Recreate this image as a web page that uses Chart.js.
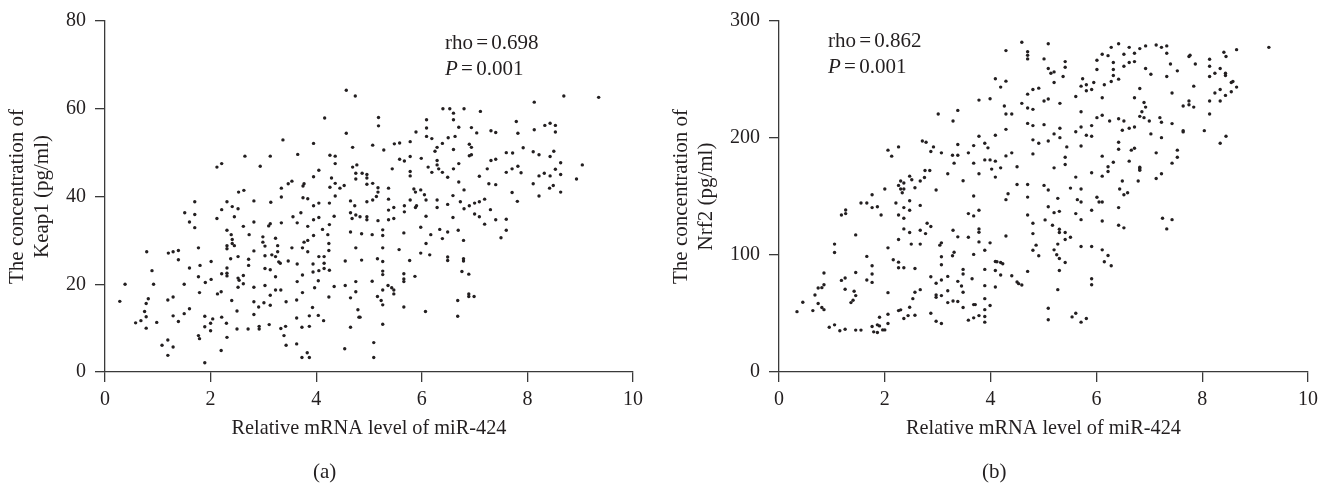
<!DOCTYPE html>
<html>
<head>
<meta charset="utf-8">
<title>miR-424 scatter</title>
<script src="https://cdn.jsdelivr.net/npm/chart.js@4"></script>
<style>
body { margin: 0; background: #fff; }
#page { position: relative; width: 1332px; height: 484px; overflow: hidden; }
canvas { position: absolute; top: 0; }
.note { position: absolute; font: 21px "Liberation Serif", serif; color: #231f20; white-space: nowrap; word-spacing: -2px; }
</style>
</head>
<body>
<div id="page">
    <canvas id="chartA" style="left:0"></canvas>
    <canvas id="chartB" style="left:666px"></canvas>
    <div class="note" style="left:445px;top:30px">rho = 0.698</div>
    <div class="note" style="left:445px;top:56px"><i>P</i> = 0.001</div>
    <div class="note" style="left:828px;top:28px">rho = 0.862</div>
    <div class="note" style="left:828px;top:54px"><i>P</i> = 0.001</div>
    <div class="note" style="left:313px;top:459px">(a)</div>
    <div class="note" style="left:982px;top:459px">(b)</div>
</div>
<script>
const mirA = [
    4.57,4.74,4.16,4.57,4.69,3.37,3.95,3.65,4.26,4.36,4.36,2.65,3.13,2.21,2.12,2.94,4.69,4.77,4.05,4.75,4.87,3.95,4.29,4.75,3.54,3.47,3.77,3.75,4.36,4.26,4.45,4.53,3.34,2.63,2.53,
    8.13,8.69,9.35,6.40,6.53,6.60,6.80,7.11,5.18,5.18,
    6.09,6.60,6.09,6.70,6.94,5.89,7.04,7.31,7.40,7.79,
    7.82,8.13,8.33,8.43,8.53,8.53,6.09,6.19,6.50,6.63,
    5.48,5.58,5.78,5.07,5.28,6.39,6.29,6.25,6.60,6.90,
    6.94,6.90,6.94,7.92,7.60,7.72,8.11,8.22,8.50,8.43,
    5.58,5.67,5.78,5.99,6.29,7.31,7.40,8.63,9.04,6.29,
    6.70,5.44,6.12,6.32,6.60,7.24,7.71,7.82,7.60,7.88,
    8.53,8.32,8.22,8.43,8.63,8.93,4.96,4.96,4.96,5.07,
    5.17,5.17,5.37,5.78,5.78,6.19,6.39,6.49,7.09,6.70,
    7.27,7.40,8.11,8.42,8.49,8.63,8.22,7.71,5.85,5.88,
    5.98,6.05,6.80,6.59,5.14,
    4.96,5.07,5.37,5.78,6.08,6.29,6.73,6.49,7.19,7.09,
    7.00,6.90,6.80,7.81,5.37,5.47,5.67,5.67,5.88,5.90,
    6.29,7.30,7.00,7.09,6.08,6.59,7.40,7.60,4.83,4.96,
    4.96,5.17,5.37,5.47,7.19,5.98,5.26,6.34,6.49,6.69,
    7.60,5.66,6.17,4.86,5.06,5.26,7.50,6.39,6.79,6.08,
    5.26,5.57,5.98,6.15,6.49,6.49,6.79,6.79,5.16,5.26,
    5.77,4.86,5.26,5.26,5.66,5.66,5.66,5.87,6.76,6.89,
    5.06,5.36,5.43,5.47,5.47,5.26,5.16,5.23,5.26,6.68,
    6.89,6.89,6.99,5.66,6.07,6.68,4.83,5.26,5.09,5.09,
    3.34,3.75,3.84,4.36,4.65,4.73,2.82,3.14,2.31,1.70,
    4.05,4.25,3.95,2.41,2.52,2.21,1.51,1.70,3.71,4.65,
    4.75,4.68,3.56,4.34,2.45,2.12,4.05,3.95,1.60,2.82,
    3.34,3.64,3.13,3.10,2.62,3.84,4.25,1.70,4.12,2.31,
    4.65,4.22,2.39,2.73,3.95,2.99,3.23,2.41,3.84,3.77,
    2.99,4.24,2.41,2.45,2.31,2.31,3.03,3.27,3.54,3.74,
    4.75,1.77,4.24,2.82,3.27,3.84,0.79,1.29,1.20,1.39,
    3.03,3.16,3.23,2.52,4.05,4.15,2.38,2.72,1.39,3.47,
    2.01,3.29,3.32,3.64,3.94,4.15,4.55,1.80,2.72,1.60,
    2.31,3.03,3.13,4.15,4.05,4.25,3.94,0.89,2.21,2.31,
    2.31,3.74,2.62,3.23,1.77,2.52,2.54,2.01,3.64,4.04,
    1.90,4.75,0.38,0.92,1.50,2.62,2.52,2.82,3.03,3.97,
    4.34,4.55,3.23,3.33,2.20,2.13,1.79,3.74,4.75,3.13,
    4.24,1.29,0.82,1.19,4.65,2.40,3.63,0.28,0.78,2.82,
    3.01,3.43,3.13,2.91,3.93,1.60,4.79,2.50,0.75,1.50,
    2.82,1.29,0.78,1.89,3.87,4.04,2.21,4.81,3.63,2.04,
    0.68,0.58,0.98,1.39,4.14,2.00,2.30,3.11,1.89,2.92,
    2.92,3.42,3.33,3.73,3.87,4.65,0.78,2.50,2.71,2.00,
    1.77,1.79,2.31,3.39,1.19,1.08,1.29,3.43,3.63,4.54,
    2.20,3.83,1.19,3.73,3.87,1.89
];

const keap1 = [
    64.2,62.9,57.9,54.4,51.2,52.9,52.1,49.6,49.4,49.2,47.5,49.2,49.2,47.5,46.7,46.9,46.7,47.2,46.0,45.3,45.3,44.5,44.2,44.0,43.5,42.9,42.9,42.4,43.0,42.1,41.9,42.5,41.9,41.4,41.0,
    61.5,62.9,62.6,60.0,60.0,59.0,60.0,59.4,58.0,56.1,
    57.5,57.5,55.6,55.8,55.7,54.7,54.5,55.0,54.6,57.1,
    54.4,55.2,56.2,56.7,56.2,54.7,53.7,53.2,53.4,53.7,
    52.0,52.2,52.5,51.7,50.6,52.1,51.2,50.3,50.7,51.9,
    51.2,49.3,49.5,51.1,50.0,49.9,50.2,49.5,50.3,49.1,
    48.5,48.1,49.1,48.7,48.2,48.2,48.5,47.7,47.2,47.2,
    47.5,46.3,46.7,46.3,46.3,46.3,46.3,46.9,45.5,45.4,
    46.2,45.3,44.7,44.7,45.0,44.0,45.0,44.2,42.8,43.0,
    42.0,41.0,41.9,45.7,44.7,45.5,45.5,44.4,44.6,43.3,
    42.9,42.7,42.9,41.9,42.5,41.0,40.1,40.9,41.7,41.0,
    41.5,40.4,41.5,40.2,40.0,
    38.8,39.2,39.4,39.2,39.2,39.2,38.8,38.2,39.4,38.8,
    38.5,37.9,37.2,38.9,36.9,37.5,37.9,36.5,37.5,37.9,
    37.5,37.0,36.0,35.4,35.5,35.2,34.7,34.8,35.4,35.4,
    34.7,34.5,34.7,35.0,33.7,33.0,32.4,32.5,31.9,32.3,
    32.3,31.7,31.3,31.5,31.3,31.1,30.6,30.4,30.0,29.3,
    28.3,27.9,27.1,26.7,26.2,25.4,25.8,25.3,25.8,25.2,
    25.4,25.5,23.0,22.2,22.4,21.2,20.6,21.8,22.9,22.3,
    20.7,19.7,19.2,18.7,17.8,18.7,17.2,16.3,15.3,16.3,
    17.8,17.2,17.2,14.8,13.8,12.7,12.5,10.9,6.7,3.3,
    39.9,39.7,39.5,40.1,39.0,37.9,39.0,38.7,38.8,38.8,
    38.5,38.5,37.9,37.7,37.2,37.0,36.3,35.9,36.3,36.3,
    35.8,35.0,35.4,35.5,35.4,35.0,35.2,34.7,34.2,34.2,
    34.0,34.0,33.8,33.3,33.2,33.2,33.6,32.9,32.5,32.3,
    31.9,31.3,31.3,31.3,31.1,30.8,30.5,30.2,30.0,29.6,
    29.6,29.3,29.3,28.8,28.8,28.1,28.7,28.8,28.3,28.3,
    28.3,28.3,27.7,27.6,27.4,27.4,27.4,27.4,27.1,27.7,
    26.5,26.7,26.3,26.3,26.3,26.3,25.8,25.7,25.6,25.3,
    25.2,25.1,24.8,24.6,24.6,24.8,25.3,24.3,24.3,23.7,
    23.7,23.6,23.3,23.6,23.1,23.2,22.8,23.1,22.4,22.5,
    21.9,22.1,22.0,21.7,21.7,21.4,20.9,21.1,20.6,20.8,
    20.4,20.6,20.0,20.0,20.0,20.1,19.3,19.3,19.7,19.2,
    19.5,19.7,18.7,18.7,18.3,17.8,18.1,18.1,18.3,17.5,
    17.1,17.1,16.7,16.4,16.9,16.3,16.4,16.1,15.6,16.0,
    15.8,16.0,15.2,14.8,14.7,14.4,14.2,13.9,13.8,13.3,
    13.1,12.8,12.6,12.7,12.8,12.9,12.5,12.5,12.3,12.1,
    11.7,11.2,11.3,11.5,11.7,11.1,11.1,10.8,10.3,10.4,
    9.8,10.4,9.9,10.2,10.4,10.2,10.0,9.8,9.8,9.4,
    8.3,7.6,7.9,8.3,7.3,6.1,5.7,6.1,6.4,5.3,
    4.9,4.4,3.8,3.3,3.3,2.1
];

const mirB = [
    4.59,4.29,4.70,4.70,4.70,4.09,4.29,4.19,4.80,4.70,
    3.78,3.99,4.59,4.26,4.70,4.80,3.38,3.01,4.29,4.40,
    3.29,4.70,4.80,4.29,4.09,3.78,4.80,2.71,2.78,3.38,
    3.89,3.95,3.68,2.26,2.92,2.06,2.13,2.87,3.07,3.28,
    3.38,3.58,4.29,4.40,4.80,3.31,3.68,3.89,3.99,4.09,
    4.02,4.19,4.50,2.76,2.85,2.47,2.75,3.19,3.78,4.09,
    2.51,2.67,2.30,2.36,3.48,2.26,2.36,2.30,2.33,2.57,
    2.00,2.97,1.76,4.50,4.70,4.33,3.68,4.70,
    4.29,2.47,1.55,1.66,2.21,2.67,1.76,1.86,2.36,2.47,
    1.26,1.26,1.18,1.93,2.26,2.36,3.58,3.68,3.78,4.70,
    4.80,2.80,2.87,2.36,2.47,2.67,2.77,3.29,3.78,3.78,
    1.45,3.38,3.58,4.29,4.80,2.26,3.78,3.99,1.05,1.05,
    2.50,2.67,3.04,3.07,4.86,2.06,3.89,4.80,3.31,3.28,
    3.68,4.91,3.07,1.66,2.16,2.26,1.76,3.07,4.09,4.12,
    4.19,4.23,2.26,2.36,2.57,3.48,3.89,4.09,4.70,0.85,
    1.45,1.76,3.48,4.19,4.40,1.25,1.18,1.66,1.76,2.87,
    3.19,3.07,2.97,3.65,3.38,4.50,4.53,4.59,3.45,3.89,
    4.09,0.85,0.81,0.74,1.25,1.42,2.67,2.57,2.06,3.19,
    3.48,0.68,1.45,2.97,2.97,3.07,2.53,3.89,1.40,1.36,
    0.45,0.74,3.19,3.29,3.38,3.68,3.71,3.99,2.47,3.48,
    0.81,0.85,0.34,0.64,2.26,2.30,3.89,2.06,2.87,1.90,
    2.44,2.57,2.36,3.68,3.78,3.89,3.89,3.58,2.97,3.07,
    2.06,1.05,0.95,1.86,1.90,1.76,1.25,1.15,1.45,1.55,
    1.96,2.00,1.79,1.86,
    5.09,9.26,5.01,6.28,6.42,6.62,6.82,6.93,7.13,7.23,
    7.33,7.33,6.11,6.22,6.52,6.72,6.01,5.41,5.41,6.32,
    6.62,6.72,6.52,5.09,5.14,5.20,5.37,6.01,6.32,6.32,
    6.93,7.03,7.40,7.53,7.33,7.75,7.77,7.87,8.14,8.14,
    8.14,8.41,8.45,8.65,8.34,8.24,8.44,8.44,6.42,6.28,
    5.74,5.71,5.81,5.95,6.15,5.20,4.91,5.81,5.91,6.82,
    7.84,7.43,8.55,8.58,8.65,8.34,8.24,8.55,8.44,5.61,
    6.11,6.72,5.01,5.09,5.31,6.90,6.93,6.86,7.75,7.75,
    7.64,7.84,8.14,8.34,8.14,5.71,6.01,6.11,6.82,6.90,
    7.20,6.25,6.42,6.52,7.00,7.23,7.43,5.01,5.31,5.71,
    5.91,5.61,6.49,6.62,6.72,7.64,7.64,8.04,5.20,5.31,
    5.81,5.91,7.03,7.23,8.45,8.34,5.09,4.91,5.44,5.71,
    6.42,6.42,6.66,6.72,7.53,7.13,7.53,6.11,5.41,6.32,
    6.62,7.43,5.41,5.20,6.22,6.82,6.82,6.82,6.22,5.91,
    7.23,6.11,5.61,7.13,6.49,6.79,5.01,5.09,5.51,5.71,
    6.44,6.59,6.52,5.27,6.01,5.64,
    5.71,6.05,6.11,5.09,5.30,5.20,5.61,5.91,6.42,7.25,
    7.43,7.33,5.03,5.71,6.11,5.17,6.42,6.52,5.30,5.30,
    5.41,5.41,5.51,5.27,5.71,5.91,6.11,5.20,5.25,5.30,
    6.22,5.41,6.15,6.28,5.30,5.91,5.91,5.27,5.09,5.09,
    5.61,5.54,5.81,5.71
];

const nrf2 = [
    281.8,274.7,273.8,270.7,267.6,250.6,248.6,243.5,241.5,237.5,
    232.4,233.5,229.6,227.3,225.6,224.5,223.6,220.5,220.5,220.5,
    214.5,212.5,210.6,207.4,202.3,201.5,198.4,197.5,196.4,194.4,
    195.5,191.6,193.5,192.4,192.4,189.6,184.5,188.4,187.3,185.3,
    185.3,187.3,184.7,187.3,186.4,178.5,178.5,181.3,181.3,180.2,
    173.4,174.5,175.4,172.2,172.2,167.4,166.3,169.4,169.4,166.6,
    164.3,163.2,163.2,161.5,163.5,159.5,156.4,156.4,153.2,157.5,
    156.4,155.5,151.5,160.3,160.3,152.4,150.4,149.5,
    147.3,146.4,144.4,144.4,144.4,142.4,140.5,141.3,140.5,138.2,
    138.5,135.4,134.2,134.2,134.2,131.4,135.4,133.4,138.2,134.2,
    127.1,127.1,124.3,122.3,119.2,121.2,118.3,121.2,122.3,119.5,
    117.2,115.5,115.2,116.3,118.3,113.2,111.2,110.4,109.3,102.2,
    109.3,109.3,108.4,110.4,108.4,106.1,104.1,104.1,102.4,99.3,
    100.5,99.3,98.5,98.8,95.9,93.9,90.8,91.7,94.5,94.2,
    93.6,92.5,89.1,89.1,88.5,87.7,87.7,86.8,86.0,84.6,
    85.1,83.7,83.7,82.9,82.3,80.3,78.3,78.6,76.6,81.4,
    81.7,78.6,75.8,79.7,77.5,76.9,75.5,74.3,73.5,73.8,
    72.6,74.6,72.1,71.8,70.7,69.0,70.4,68.1,67.8,69.5,
    68.1,65.8,65.3,65.8,63.8,65.3,62.7,62.7,61.3,59.3,
    59.6,58.5,59.3,60.7,60.2,57.6,57.6,56.8,55.3,55.1,
    55.1,53.3,51.6,52.5,52.5,53.1,53.3,49.4,50.2,46.8,
    48.2,48.5,45.7,46.3,48.2,47.4,42.6,44.3,43.4,41.4,
    41.4,40.3,38.3,40.3,39.4,38.9,36.6,35.2,35.8,35.8,
    36.0,36.0,34.3,33.8,
    280.6,277.5,267.6,277.5,280.6,277.5,276.4,278.7,279.5,277.5,
    278.7,272.4,271.6,270.4,271.6,272.4,266.5,265.3,260.5,264.5,
    264.5,265.3,261.3,259.4,255.4,256.5,252.6,258.5,258.5,253.4,
    259.4,254.5,263.3,257.4,252.6,269.6,270.7,263.3,267.3,261.3,
    252.6,273.3,269.6,275.5,259.4,255.4,255.4,253.4,250.3,248.3,
    250.6,244.3,245.5,247.4,245.5,247.4,242.6,240.4,241.5,242.3,
    244.3,238.4,247.4,248.3,243.5,241.5,238.4,239.5,236.4,235.5,
    234.4,234.4,231.6,233.3,229.6,230.4,226.4,222.5,231.6,228.4,
    227.3,226.4,231.6,231.6,220.5,222.5,217.4,219.4,218.5,217.4,
    217.4,214.5,216.5,214.5,214.5,213.4,212.3,211.4,208.3,209.4,
    210.6,205.4,206.6,208.3,209.4,206.3,205.2,206.3,203.5,200.3,
    202.3,201.5,203.5,200.3,201.5,195.5,197.5,195.5,192.4,193.2,
    196.4,190.4,189.6,191.3,189.6,187.3,183.6,184.5,183.6,179.3,
    180.2,178.5,177.4,174.5,175.4,175.1,173.7,172.5,171.4,170.3,
    169.4,167.4,166.6,165.4,163.2,163.2,159.5,155.5,157.2,156.4,
    156.4,153.2,151.5,148.4,149.3,147.3,
    145.3,145.3,145.3,141.3,137.3,136.2,135.4,138.2,140.5,131.4,
    130.2,122.3,130.0,130.2,129.1,125.4,125.4,123.2,122.0,119.2,
    119.2,113.2,115.2,109.3,107.3,107.3,104.4,104.4,100.2,97.0,
    99.6,93.6,94.2,90.8,86.8,79.7,74.6,70.4,54.5,44.6,
    50.2,47.1,45.7,42.6
];

const xTitle = "Relative mRNA level of miR-424";
const yTitleA = ["The concentration of", "Keap1 (pg/ml)"];
const yTitleB = ["The concentration of", "Nrf2 (pg/ml)"];

const ink = "#231f20";
const axisColor = "#3a3a3a";
const serif = "'Liberation Serif', serif";

function makeScatter(id, xs, ys, yMax, yStep, yTitle, leftWidth, rightPad, yTitlePad) {

    const canvas = document.getElementById(id);
    canvas.width = 666;
    canvas.height = 484;

    return new Chart(canvas, {
        type: "scatter",
        data: {
            datasets: [{
                data: xs.map((x, i) => ({ x: x, y: ys[i] })),
                pointRadius: 1.7,
                pointBackgroundColor: ink,
                pointBorderWidth: 0
            }]
        },
        options: {
            responsive: false,
            animation: false,
            layout: { padding: { top: 19, right: rightPad, left: 0, bottom: 43 } },
            plugins: {
                legend: { display: false },
                tooltip: { enabled: false }
            },
            scales: {
                x: {
                    type: "linear",
                    min: 0,
                    max: 10,
                    ticks: { stepSize: 2, color: ink, font: { family: serif, size: 20 }, padding: 6, maxRotation: 0 },
                    grid: { drawOnChartArea: false, tickLength: 10, color: axisColor, lineWidth: 1.3 },
                    border: { color: axisColor, width: 1.3 },
                    title: { display: true, text: xTitle, color: ink, font: { family: serif, size: 20.3 }, padding: 0 },
                    afterFit: scale => { scale.height = 69; }
                },
                y: {
                    min: 0,
                    max: yMax,
                    ticks: { stepSize: yStep, color: ink, font: { family: serif, size: 20 }, padding: 9 },
                    grid: { drawOnChartArea: false, tickLength: 10, color: axisColor, lineWidth: 1.3 },
                    border: { color: axisColor, width: 1.3 },
                    title: { display: true, text: yTitle, color: ink, font: { family: serif, size: 21, lineHeight: 1.19 }, padding: { top: yTitlePad, bottom: 0 } },
                    afterFit: scale => { scale.width = leftWidth; }
                }
            }
        }
    });
}

makeScatter("chartA", mirA, keap1, 80, 20, yTitleA, 105, 33, 5);
makeScatter("chartB", mirB, nrf2, 300, 100, yTitleB, 113, 24, 3);
</script>
</body>
</html>
